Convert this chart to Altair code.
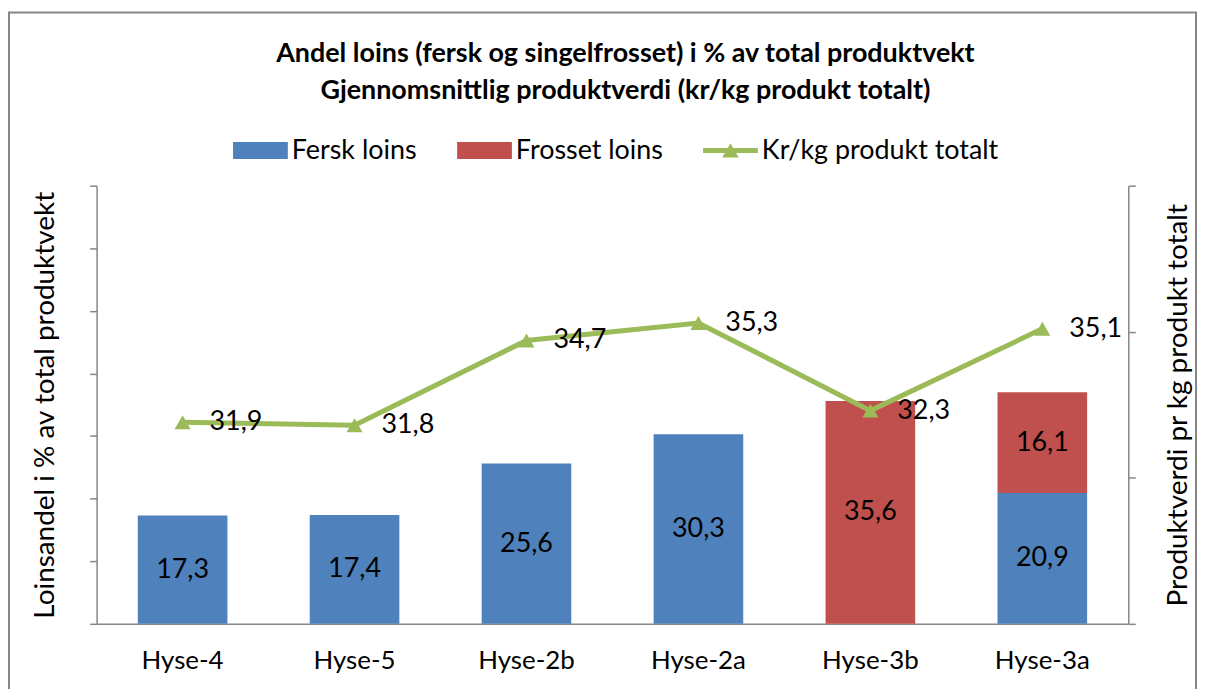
import altair as alt
import pandas as pd

categories = ['Hyse-4', 'Hyse-5', 'Hyse-2b', 'Hyse-2a', 'Hyse-3b', 'Hyse-3a']
fersk = [17.3, 17.4, 25.6, 30.3, 0, 20.9]
frosset = [0, 0, 0, 0, 35.6, 16.1]
krkg = [31.9, 31.8, 34.7, 35.3, 32.3, 35.1]
series = ['Fersk loins', 'Frosset loins', 'Kr/kg produkt totalt']
colors = ['#4F81BD', '#C0504D', '#9BBB59']
legend_shapes = [
    'M-1,-0.31H1V0.31H-1Z',
    'M-1,-0.31H1V0.31H-1Z',
    'M-1,-0.09H1V0.09H-1Z M-0.3,0.25L0,-0.27L0.3,0.25Z',
]

rows = []
for c, f, z in zip(categories, fersk, frosset):
    if f:
        rows.append({'cat': c, 'series': series[0], 'v': f, 'order': 0})
    if z:
        rows.append({'cat': c, 'series': series[1], 'v': z, 'order': 1})
bars_df = pd.DataFrame(rows)
line_df = pd.DataFrame({'cat': categories, 'series': series[2], 'v': krkg})

FONT = 'Lato'
GRAY = '#868686'
W, H = 1036, 440

x_enc = alt.X(
    'cat:N', sort=categories, title=None,
    scale=alt.Scale(paddingInner=0.48, paddingOuter=0.24),
    axis=alt.Axis(labelFontSize=26, labelFont=FONT, labelColor='black', labelAngle=0,
                  labelPadding=24, ticks=False, domainColor=GRAY, domainWidth=1.5),
)
x_plain = alt.X('cat:N', sort=categories)

color_enc = alt.Color(
    'series:N',
    scale=alt.Scale(domain=series, range=colors),
    legend=alt.Legend(
        title=None, orient='none', direction='horizontal', legendX=137, legendY=-63,
        symbolSize=3025, symbolStrokeWidth=0, symbolOpacity=1, labelFontSize=27,
        labelFont=FONT, labelColor='black', labelOffset=4, columnPadding=40, padding=0,
        labelLimit=400,
    ),
)
shape_enc = alt.Shape('series:N', scale=alt.Scale(domain=series, range=legend_shapes))

bars = alt.Chart(bars_df).mark_bar(size=90).encode(
    x=x_enc,
    y=alt.Y('v:Q', stack='zero', scale=alt.Scale(domain=[0, 70]),
            axis=alt.Axis(values=list(range(0, 71, 10)), labels=False, tickSize=7,
                          tickColor=GRAY, tickWidth=1.5, domainColor=GRAY, domainWidth=1.5,
                          grid=False, title='Loinsandel i % av total produktvekt',
                          titleFontSize=28, titleFont=FONT, titleFontWeight='normal',
                          titleColor='black', titlePadding=30)),
    color=color_enc,
    order=alt.Order('order:Q'),
)

bar_text = alt.Chart(bars_df).transform_stack(
    stack='v', as_=['v0', 'v1'], groupby=['cat'], sort=[alt.SortField('order')]
).transform_calculate(
    mid='(datum.v0 + datum.v1) / 2',
    label="replace(format(datum.v, '.1f'), '.', ',')",
).mark_text(fontSize=27, font=FONT, color='black', baseline='middle').encode(
    x=x_plain,
    y=alt.Y('mid:Q', scale=alt.Scale(domain=[0, 70])),
    text='label:N',
)

frame = alt.Chart(pd.DataFrame({'a': [0]})).mark_rect(
    fillOpacity=0, stroke=GRAY, strokeWidth=2
).encode(
    x=alt.value(-88), x2=alt.value(W + 68), y=alt.value(-174), y2=alt.value(H + 90)
)

left = alt.layer(frame, bars, bar_text)

y_right = alt.Y('v:Q', scale=alt.Scale(domain=[25, 40]),
                axis=alt.Axis(orient='right', values=[25, 30, 35, 40], labels=False,
                              tickSize=7, tickColor=GRAY, tickWidth=1.5, domainColor=GRAY,
                              domainWidth=1.5, grid=False,
                              title='Produktverdi pr kg produkt totalt', titleAngle=270,
                              titleBaseline='top',
                              titleFontSize=28, titleFont=FONT, titleFontWeight='normal',
                              titleColor='black', titlePadding=29))
y_right_plain = alt.Y('v:Q', scale=alt.Scale(domain=[25, 40]))

line = alt.Chart(line_df).mark_line(color=colors[2], strokeWidth=5).encode(
    x=x_plain, y=y_right,
)
points = alt.Chart(line_df).mark_point(
    shape='triangle-up', filled=True, size=260, color=colors[2], opacity=1
).encode(x=x_plain, y=y_right_plain)
legend_helper = alt.Chart(line_df).mark_point(filled=True, size=0, opacity=1).encode(
    x=x_plain, y=y_right_plain, color=color_enc, shape=shape_enc,
)
line_text = alt.Chart(line_df).transform_calculate(
    label="replace(format(datum.v, '.1f'), '.', ',')"
).mark_text(align='left', dx=27, fontSize=27, font=FONT, color='black',
            baseline='middle').encode(
    x=x_plain, y=y_right_plain, text='label:N',
)

right = alt.layer(line, points, legend_helper, line_text)

chart = alt.layer(left, right).resolve_scale(y='independent').properties(
    width=W, height=H,
    autosize=alt.AutoSizeParams(type='none'),
    padding={'left': 89, 'top': 177, 'right': 70, 'bottom': 64},
    title=alt.Title(
        ['Andel loins (fersk og singelfrosset) i % av total produktvekt',
         'Gjennomsnittlig produktverdi (kr/kg produkt totalt)'],
        font=FONT, fontSize=27, fontWeight='bold', color='black', anchor='middle',
        lineHeight=37, offset=18, dx=13, dy=112,
    ),
).configure(background='white').configure_view(strokeWidth=0)

chart.save('out.html', embed_options={'renderer': 'svg', 'actions': False})
